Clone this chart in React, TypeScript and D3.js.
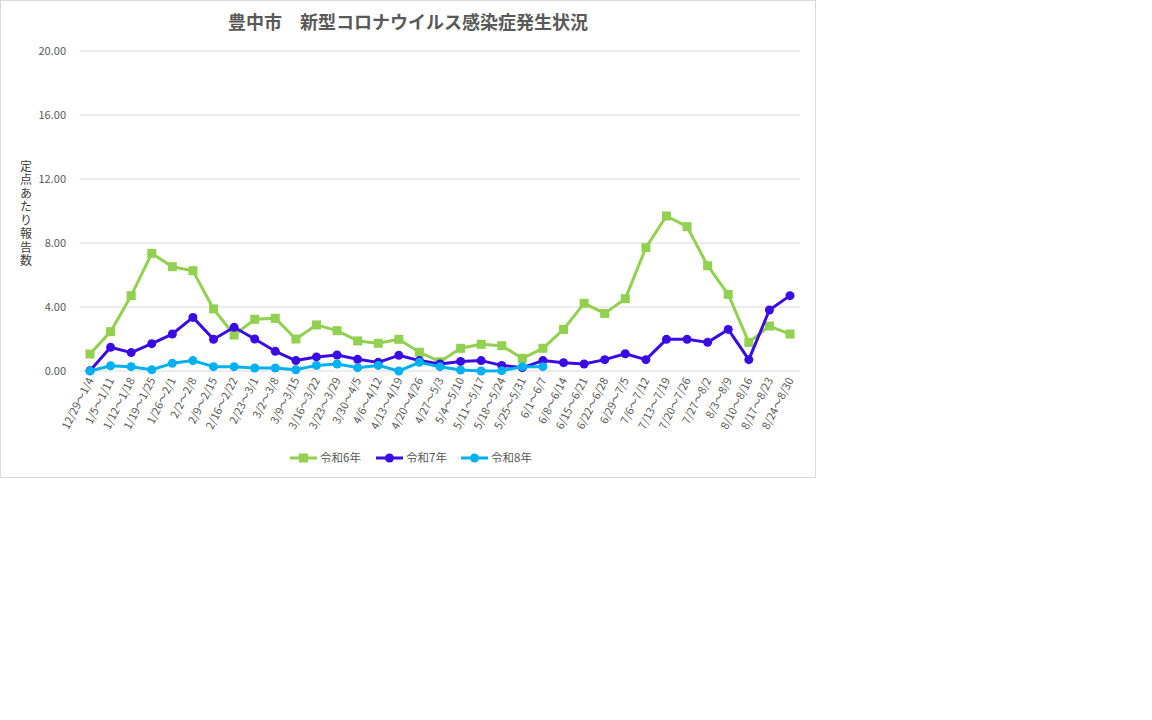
import React from "react";
import * as d3 from "d3";

const categories = [
  "12/29～1/4", "1/5～1/11", "1/12～1/18", "1/19～1/25", "1/26～2/1", "2/2～2/8", "2/9～2/15",
  "2/16～2/22", "2/23～3/1", "3/2～3/8", "3/9～3/15", "3/16～3/22", "3/23～3/29", "3/30～4/5",
  "4/6～4/12", "4/13～4/19", "4/20～4/26", "4/27～5/3", "5/4～5/10", "5/11～5/17", "5/18～5/24",
  "5/25～5/31", "6/1～6/7", "6/8～6/14", "6/15～6/21", "6/22～6/28", "6/29～7/5", "7/6～7/12",
  "7/13～7/19", "7/20～7/26", "7/27～8/2", "8/3～8/9", "8/10～8/16", "8/17～8/23", "8/24～8/30",
];

const r6 = [
  1.06, 2.46, 4.71, 7.35, 6.52, 6.27, 3.88, 2.25, 3.23, 3.29, 2.0, 2.88, 2.52, 1.88, 1.73, 1.98,
  1.17, 0.58, 1.42, 1.67, 1.58, 0.79, 1.42, 2.6, 4.23, 3.6, 4.52, 7.71, 9.69, 9.02, 6.58, 4.79,
  1.79, 2.81, 2.31,
];
const r7 = [
  0.02, 1.48, 1.15, 1.71, 2.31, 3.35, 1.98, 2.73, 2.0, 1.23, 0.65, 0.88, 1.0, 0.73, 0.54, 0.98,
  0.65, 0.44, 0.6, 0.65, 0.35, 0.21, 0.65, 0.52, 0.44, 0.71, 1.08, 0.71, 1.98, 1.98, 1.79, 2.6,
  0.71, 3.81, 4.71,
];
const r8 = [
  0.0, 0.33, 0.27, 0.08, 0.48, 0.65, 0.27, 0.27, 0.19, 0.19, 0.08, 0.35, 0.44, 0.21, 0.35, 0.0,
  0.54, 0.27, 0.06, 0.0, 0.02, 0.27, 0.27,
];
const yTicks = [0, 4, 8, 12, 16, 20];
const seriesNames = ["令和6年", "令和7年", "令和8年"];
const yTitle = "定点あたり報告数";

const FONT = "'Noto Sans CJK JP', 'Noto Sans', sans-serif";

export default function App() {
  const W = 1152, H = 720;
  const left = 79.7, right = 800.3, top = 51, bottom = 371;
  const x = d3.scaleBand<string>().domain(categories).range([left, right]);
  const y = d3.scaleLinear().domain([0, 20]).range([bottom, top]);
  const cx = (i: number) => (x(categories[i]) as number) + x.bandwidth() / 2;
  const line = d3.line<number>().x((_, i) => cx(i)).y((d) => y(d));

  const series = [
    { name: seriesNames[0], data: r6, color: "#92D050", marker: "square" },
    { name: seriesNames[1], data: r7, color: "#3A0BE3", marker: "circle" },
    { name: seriesNames[2], data: r8, color: "#00B0F0", marker: "circle" },
  ];

  const marker = (m: string, px: number, py: number, color: string, key: string | number) =>
    m === "square" ? (
      <rect key={key} x={px - 4.5} y={py - 4.5} width={9} height={9} fill={color} />
    ) : (
      <circle key={key} cx={px} cy={py} r={4.5} fill={color} />
    );

  const legendX = [290, 376, 461];

  return (
    <svg width={W} height={H} style={{ position: "absolute", left: 0, top: 0 }} fontFamily={FONT}>
      <rect x={0.5} y={0.5} width={815} height={477} fill="#fff" stroke="#D9D9D9" />
      <text x={408} y={29} textAnchor="middle" fontSize={18} fontWeight="bold" fill="#595959">
        豊中市　新型コロナウイルス感染症発生状況
      </text>
      {yTicks.map((t) => (
        <g key={t}>
          <line x1={left} x2={right} y1={y(t)} y2={y(t)} stroke="#D9D9D9" strokeWidth={1} />
          <text x={66} y={y(t) + 4} textAnchor="end" fontSize={11} fill="#595959">
            {t.toFixed(2)}
          </text>
        </g>
      ))}
      <text
        x={26}
        y={160}
        fontSize={12}
        fill="#404040"
        style={{ writingMode: "vertical-rl", textOrientation: "upright", letterSpacing: "1.5px" } as any}
      >
        {yTitle}
      </text>
      {categories.map((c, i) => (
        <text
          key={c}
          transform={`translate(${cx(i) + 4},${380}) rotate(-63)`}
          textAnchor="end"
          fontSize={11}
          fill="#595959"
        >
          {c}
        </text>
      ))}
      {series.map((s) => (
        <g key={s.name}>
          <path d={line(s.data) || ""} fill="none" stroke={s.color} strokeWidth={3} strokeLinejoin="round" />
          {s.data.map((v, i) => marker(s.marker, cx(i), y(v), s.color, i))}
        </g>
      ))}
      {series.map((s, k) => (
        <g key={s.name}>
          <line x1={legendX[k]} x2={legendX[k] + 27} y1={458} y2={458} stroke={s.color} strokeWidth={3} />
          {marker(s.marker, legendX[k] + 13.5, 458, s.color, "m")}
          <text x={legendX[k] + 30} y={462} fontSize={11.5} fill="#595959">
            {s.name}
          </text>
        </g>
      ))}
    </svg>
  );
}
